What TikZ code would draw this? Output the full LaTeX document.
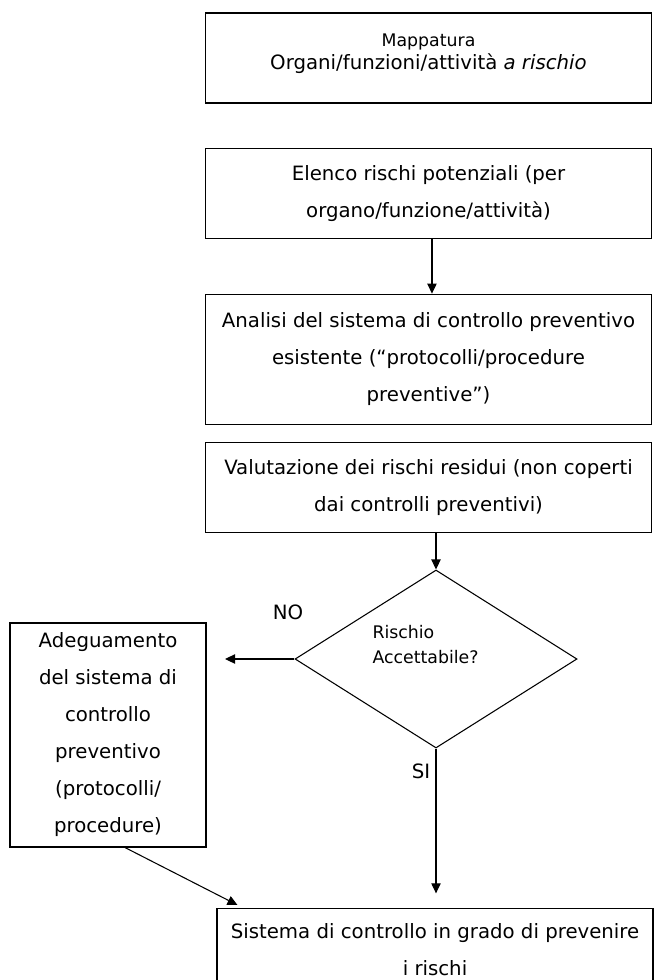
\documentclass[tikz,border=0pt]{standalone}
\usepackage{fontspec}
\setmainfont{DejaVu Sans}
\usetikzlibrary{arrows.meta}
\usetikzlibrary{shapes.geometric}
\usetikzlibrary{calc,positioning}

\begin{document}
\begin{tikzpicture}[x=0.75pt, y=-0.75pt, >={Triangle[width=7pt,length=7.5pt]},
    box/.style={draw, line width=0.8pt, rectangle, inner sep=0pt, align=center,
        font=\fontsize{14.8}{27.75}\selectfont},
    choice/.style={draw, line width=0.8pt, diamond, inner sep=0pt,
        minimum width=211.5pt, minimum height=133.5pt},
    flow/.style={->, line width=0.8pt},
    small/.style={font=\fontsize{13}{18.75}\selectfont},
    tag/.style={font=\fontsize{14.8}{16}\selectfont}]

    \useasboundingbox (0,0) rectangle (654,980);
    \clip (0,0) rectangle (654,980);

    % main column
    \node[box, minimum width=335pt, minimum height=67.5pt, text depth=9.5pt, font=\fontsize{14.8}{17.25}\selectfont] (mappa) at (428.5,58)
        {{\fontsize{13}{17.25}\selectfont Mappatura}\\Organi/funzioni/attività \textit{a rischio}};
    \node[box, minimum width=335pt, minimum height=68pt] (elenco) at (428.5,193.5)
        {Elenco rischi potenziali (per\\organo/funzione/attività)};
    \node[box, minimum width=335pt, minimum height=98pt] (analisi) at (428.5,359.5)
        {Analisi del sistema di controllo preventivo\\esistente (“protocolli/procedure\\preventive”)};
    \node[box, minimum width=335pt, minimum height=67pt] (valuta) at (428.5,487.5)
        {Valutazione dei rischi residui (non coperti\\dai controlli preventivi)};

    \node[choice] (rischio) at (436,659) {};
    \node[small, align=left] (domanda) at (425.5,645) {Rischio\\Accettabile?};

    \node[box, minimum width=147pt, minimum height=168pt] (adegua) at (108,735)
        {Adeguamento\\del sistema di\\controllo\\preventivo\\(protocolli/\\procedure)};
    \node[box, minimum width=327pt, minimum height=61pt, anchor=north] (sistema) at (435,908)
        {Sistema di controllo in grado di prevenire\\i rischi};

    \coordinate (noend) at (225,659);
    \node[tag] (no) at (288,612) {NO};
    \node[tag] (si) at (421,771) {SI};

    % connectors
    \draw[flow] ([xshift=2.6pt]elenco.south) -- ([xshift=2.6pt]analisi.north);
    \draw[flow] (rischio.north |- valuta.south) -- (rischio.north);
    \draw[flow] (rischio.west) -- (noend);
    \draw[flow, shorten >=11pt] (rischio.south) -- (rischio.south |- sistema.north);
    \draw[flow] ([xshift=12.75pt]adegua.south) -- ([xshift=15.75pt, yshift=2.25pt]sistema.north west);

\end{tikzpicture}
\end{document}
